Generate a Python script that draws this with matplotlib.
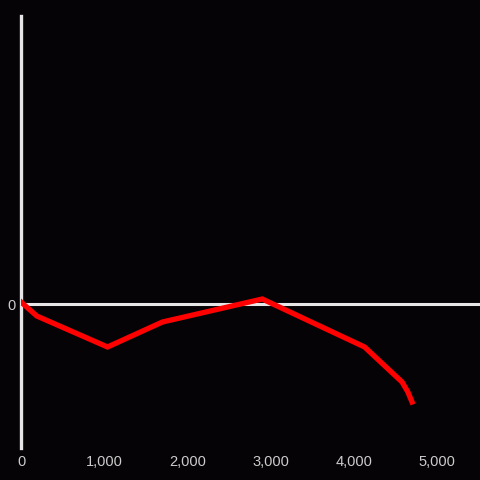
import matplotlib
matplotlib.use('agg')
import matplotlib.pyplot as plt
from matplotlib.ticker import FuncFormatter

# series
x_vals = [0, 190, 1040, 1700, 2900, 4130, 4580, 4650, 4700]
y_vals = [2, -12, -43, -18, 5, -43, -78, -88, -98]
x_ticks = [0, 1000, 2000, 3000, 4000, 5000]
y_ticks = [0]

bg = '#050306'
axis_col = '#e6e6e6'
label_col = '#cccccc'

fig = plt.figure(figsize=(4.8, 4.8), dpi=100, facecolor=bg)
ax = fig.add_axes([21 / 480, 32 / 480, 459 / 480, 432 / 480], facecolor=bg)

ax.plot(x_vals, y_vals, color='#ff0000', linewidth=3.8, solid_joinstyle='miter', zorder=3)
ax.axhline(0, color=axis_col, linewidth=2.2, zorder=2)

ax.set_xlim(0, 5517)
ax.set_ylim(-144, 288)

for s in ['top', 'right', 'bottom']:
    ax.spines[s].set_visible(False)
ax.spines['left'].set_color(axis_col)
ax.spines['left'].set_linewidth(2.4)

ax.set_xticks(x_ticks)
ax.set_yticks(y_ticks)
ax.xaxis.set_major_formatter(FuncFormatter(lambda v, p: f'{int(v):,}'))
ax.tick_params(axis='both', length=0, colors=label_col, labelsize=10.5)
ax.tick_params(axis='x', pad=5)
ax.tick_params(axis='y', pad=4)
for t in ax.get_xticklabels() + ax.get_yticklabels():
    t.set_fontfamily('Liberation Sans')

fig.savefig('out.png', dpi=100, facecolor=bg)
plt.close(fig)
